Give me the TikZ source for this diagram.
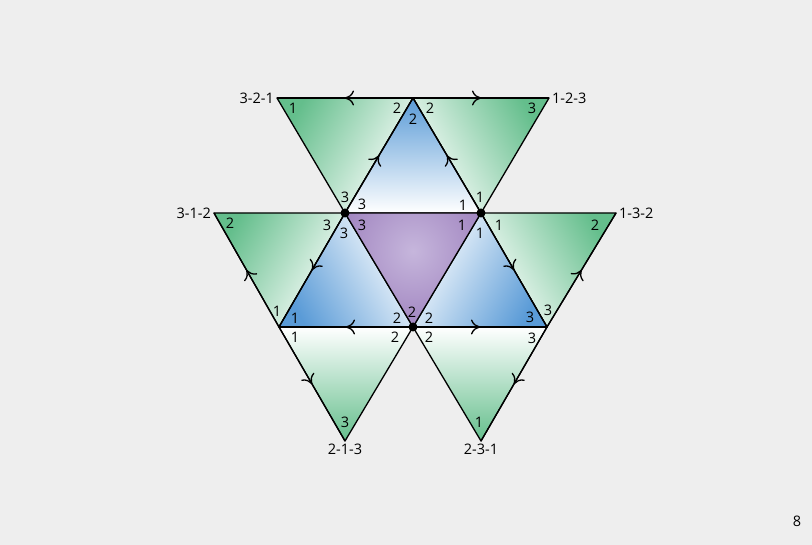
\documentclass[tikz,border=0pt]{standalone}
\usepackage{fontspec}
\setmainfont{Open Sans}
\usepackage{xcolor}
\usepackage{tikz}
\usetikzlibrary{arrows.meta,positioning,calc,decorations.markings}
\definecolor{pagegray}{RGB}{238,238,238}
\definecolor{tgreen}{RGB}{100,190,140}
\definecolor{tblue}{RGB}{90,155,215}
\definecolor{tpurple}{RGB}{145,112,180}
\definecolor{tlilac}{RGB}{198,182,220}
\tikzstyle{tileline} = [draw, line width=1.3pt, line join=round]
\tikzstyle{num} = [inner sep=0pt]
\tikzstyle{perm} = [inner sep=3pt]
\tikzset{
  greentile/.style={tileline, top color=white, bottom color=tgreen, shading angle=#1},
  bluetile/.style={tileline, top color=white, bottom color=tblue, shading angle=#1},
  midarrow/.style={line width=1.3pt, postaction={decorate},
    decoration={markings, mark=at position 0.5 with {\arrow{To[length=9pt,width=15pt]}}}}
}

\begin{document}
\begin{tikzpicture}[x=1pt, y=-1pt, font=\fontsize{14.5}{16}\selectfont]
        \fill[pagegray] (0,0) rectangle (812,545);
        \useasboundingbox (0,0) rectangle (812,545);

        % Corners
        \coordinate (t1) at (277,98);
        \coordinate (t2) at (413,98);
        \coordinate (t3) at (549,98);
        \coordinate (m0) at (214,213);
        \coordinate (m1) at (345,213);
        \coordinate (m2) at (481,213);
        \coordinate (m3) at (616,213);
        \coordinate (b1) at (279,327);
        \coordinate (b2) at (413,327);
        \coordinate (b3) at (547,327);
        \coordinate (d1) at (345,441);
        \coordinate (d2) at (481,441);
        \coordinate (ctr) at (413,251);

        % Tiles
        \path [greentile=-120] (t1) -- (t2) -- (m1) -- cycle;
        \path [greentile=120] (t2) -- (t3) -- (m2) -- cycle;
        \path [greentile=-120] (m0) -- (m1) -- (b1) -- cycle;
        \path [greentile=120] (m2) -- (m3) -- (b3) -- cycle;
        \path [greentile=0] (b1) -- (b2) -- (d1) -- cycle;
        \path [greentile=0] (b2) -- (b3) -- (d2) -- cycle;
        \path [bluetile=180] (t2) -- (m1) -- (m2) -- cycle;
        \path [bluetile=-60] (m1) -- (b1) -- (b2) -- cycle;
        \path [bluetile=60] (m2) -- (b2) -- (b3) -- cycle;
        \begin{scope}
          \clip (m1) -- (m2) -- (b2) -- cycle;
          \shade [inner color=tlilac, outer color=tpurple] (ctr) circle (110);
        \end{scope}
        \path [tileline] (m1) -- (m2) -- (b2) -- cycle;

        % Arrows
        \draw [midarrow] (t2) -- (t1);
        \draw [midarrow] (t2) -- (t3);
        \draw [midarrow] (m1) -- (t2);
        \draw [midarrow] (m2) -- (t2);
        \draw [midarrow] (b1) -- (m0);
        \draw [midarrow] (m1) -- (b1);
        \draw [midarrow] (b2) -- (b1);
        \draw [midarrow] (m2) -- (b3);
        \draw [midarrow] (b3) -- (m3);
        \draw [midarrow] (b2) -- (b3);
        \draw [midarrow] (b1) -- (d1);
        \draw [midarrow] (b3) -- (d2);

        \fill (m1) circle (4.5pt);
        \fill (m2) circle (4.5pt);
        \fill (b2) circle (4.5pt);

        % Corner numbers
        \node [num] (gtl1) at (293,108) {1};
        \node [num] (gtl2) at (397,108) {2};
        \node [num] (gtl3) at (345,197) {3};
        \node [num] (gtr2) at (430,108) {2};
        \node [num] (gtr3) at (532,108) {3};
        \node [num] (gtr1) at (480,197) {1};
        \node [num] (bt2) at (413,119) {2};
        \node [num] (bt3) at (362,204) {3};
        \node [num] (bt1) at (463,205) {1};
        \node [num] (gml2) at (230,223) {2};
        \node [num] (gml3) at (327,225) {3};
        \node [num] (gml1) at (277,311) {1};
        \node [num] (pc3) at (362,225) {3};
        \node [num] (pc1) at (462,225) {1};
        \node [num] (pc2) at (412,312) {2};
        \node [num] (bl3) at (344,233) {3};
        \node [num] (bl1) at (295,318) {1};
        \node [num] (bl2) at (397,318) {2};
        \node [num] (br1) at (480,233) {1};
        \node [num] (br2) at (429,318) {2};
        \node [num] (br3) at (530,317) {3};
        \node [num] (gmr1) at (499,225) {1};
        \node [num] (gmr2) at (595,225) {2};
        \node [num] (gmr3) at (548,310) {3};
        \node [num] (gbl1) at (295,337) {1};
        \node [num] (gbl2) at (395,337) {2};
        \node [num] (gbl3) at (345,422) {3};
        \node [num] (gbr2) at (429,337) {2};
        \node [num] (gbr3) at (532,338) {3};
        \node [num] (gbr1) at (479,422) {1};

        % Permutations
        \node [perm, left=0pt of t1] (p321) {3-2-1};
        \node [perm, right=0pt of t3] (p123) {1-2-3};
        \node [perm, left=0pt of m0] (p312) {3-1-2};
        \node [perm, right=0pt of m3] (p132) {1-3-2};
        \node [perm, below=0pt of d1] (p213) {2-1-3};
        \node [perm, below=0pt of d2] (p231) {2-3-1};
        \node [perm] (pageno) at (797,521) {8};
\end{tikzpicture}
\end{document}
